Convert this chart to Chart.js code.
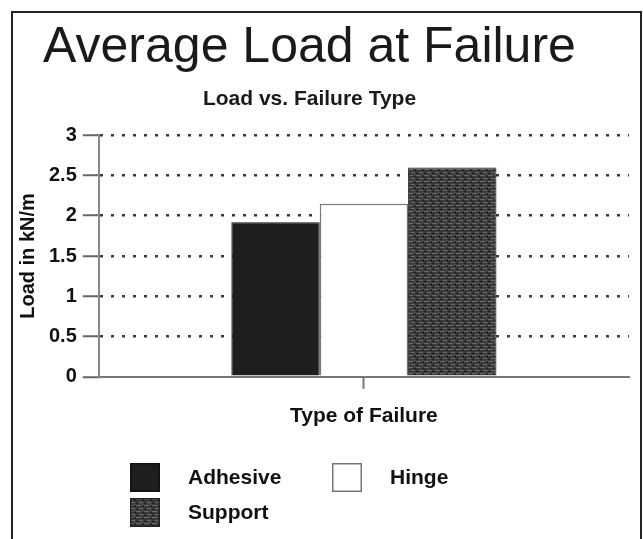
<!doctype html>
<html lang="en">
<head>
<meta charset="utf-8">
<title>Average Load at Failure</title>
<script src="https://cdn.jsdelivr.net/npm/chart.js@4.4.1/dist/chart.umd.min.js"></script>
<style>
  html, body { margin: 0; padding: 0; background: #fff; }
  #wrap { position: relative; width: 643px; height: 539px; overflow: hidden; background: #fff; }
  #frame { position: absolute; left: 11px; top: 11px; width: 627px; height: 600px; border: 2px solid #222; }
  #chart { position: absolute; left: 0; top: 0; }
</style>
</head>
<body>
<div id="wrap">
  <div id="frame"></div>
  <canvas id="chart" width="643" height="539"></canvas>
</div>

<script>
// data
var categories = [''];
var seriesNames = ['Adhesive', 'Hinge', 'Support'];
var adhesiveLoad = [1.92];
var hingeLoad = [2.15];
var supportLoad = [2.6];
var yTicks = [0, 0.5, 1, 1.5, 2, 2.5, 3];

var FONT = '"Liberation Sans", Arial, sans-serif';

// speckled dark grey fill for the "Support" bar
function supportPattern() {
    var c = document.createElement('canvas');
    c.width = 8; c.height = 6;
    var g = c.getContext('2d');
    g.fillStyle = '#3a3a3a';
    g.fillRect(0, 0, 8, 6);
    g.fillStyle = '#6a6a6a';
    g.fillRect(0, 1, 5, 1);
    g.fillRect(3, 4, 4, 1);
    g.fillRect(6, 0, 1, 1);
    g.fillStyle = '#1c1c1c';
    g.fillRect(6, 2, 2, 1);
    g.fillRect(1, 3, 1, 1);
    g.fillRect(0, 5, 2, 1);
    return document.getElementById('chart').getContext('2d').createPattern(c, 'repeat');
}

// legend in two columns under the axis title
var cornerLegend = {
    id: 'cornerLegend',
    afterDraw: function(chart) {
        var ctx = chart.ctx;
        ctx.save();
        chart.data.datasets.forEach(function(ds, i) {
            var x = 130 + (i % 2) * 202;
            var y = 463 + Math.floor(i / 2) * 35;
            ctx.fillStyle = ds.backgroundColor;
            ctx.fillRect(x, y, 30, 29);
            ctx.lineWidth = 1.5;
            ctx.strokeStyle = ds.borderColor;
            ctx.strokeRect(x + 0.75, y + 0.75, 28.5, 27.5);
            ctx.fillStyle = '#111';
            ctx.font = 'bold 21px ' + FONT;
            ctx.textBaseline = 'middle';
            ctx.textAlign = 'left';
            ctx.fillText(ds.label, x + 58, y + 15);
        });
        ctx.restore();
    }
};

var ctx = document.getElementById('chart').getContext('2d');
var myChart = new Chart(ctx, {
    type: 'bar',
    data: {
        labels: categories,
        datasets: [
            { label: seriesNames[0], data: adhesiveLoad, backgroundColor: '#1e1e1e', borderColor: '#111', borderWidth: 1 },
            { label: seriesNames[1], data: hingeLoad, backgroundColor: '#ffffff', borderColor: '#777', borderWidth: 1.5 },
            { label: seriesNames[2], data: supportLoad, backgroundColor: supportPattern(), borderColor: '#222', borderWidth: 1 }
        ]
    },
    plugins: [cornerLegend],
    options: {
        responsive: false,
        animation: false,
        categoryPercentage: 0.5,
        barPercentage: 1.0,
        // left is negative so the centred titles sit a bit left, like the original
        layout: { padding: { left: -10, right: 14, top: 0, bottom: 110 } },
        plugins: {
            legend: { display: false },
            tooltip: { enabled: false },
            title: {
                display: true,
                text: 'Average Load at Failure',
                color: '#1a1a1a',
                font: { family: FONT, size: 50, weight: 'normal' },
                padding: { top: 18, bottom: 0 }
            },
            subtitle: {
                display: true,
                text: 'Load vs. Failure Type',
                color: '#1a1a1a',
                font: { family: FONT, size: 21, weight: 'bold' },
                padding: { top: 9, bottom: 23 }
            }
        },
        scales: {
            x: {
                offset: true,
                border: { display: true, color: '#777', width: 2 },
                grid: {
                    offset: false,
                    drawOnChartArea: false,
                    drawTicks: true,
                    tickLength: 12,
                    tickColor: '#777',
                    tickWidth: 2
                },
                ticks: { display: false },
                title: {
                    display: true,
                    text: 'Type of Failure',
                    color: '#111',
                    font: { family: FONT, size: 21, weight: 'bold' },
                    padding: { top: 15, bottom: 0 }
                }
            },
            y: {
                min: 0,
                max: 3,
                afterBuildTicks: function(axis) {
                    axis.ticks = yTicks.map(function(v) { return { value: v }; });
                },
                border: { display: true, color: '#888', width: 2, dash: [3, 8] },
                grid: {
                    color: function(c) { return c.tick && c.tick.value === 0 ? 'rgba(0,0,0,0)' : '#3a3a3a'; },
                    lineWidth: 2.5,
                    tickBorderDash: [],
                    tickColor: '#666',
                    tickWidth: 2,
                    tickLength: 16
                },
                ticks: {
                    color: '#111',
                    padding: 6,
                    font: { family: FONT, size: 20, weight: 'bold' },
                    callback: function(v) { return String(v); }
                },
                title: {
                    display: true,
                    text: 'Load in kN/m',
                    color: '#111',
                    font: { family: FONT, size: 20, weight: 'bold' },
                    padding: { top: 26, bottom: 3 }
                }
            }
        }
    }
});
</script>
</body>
</html>
